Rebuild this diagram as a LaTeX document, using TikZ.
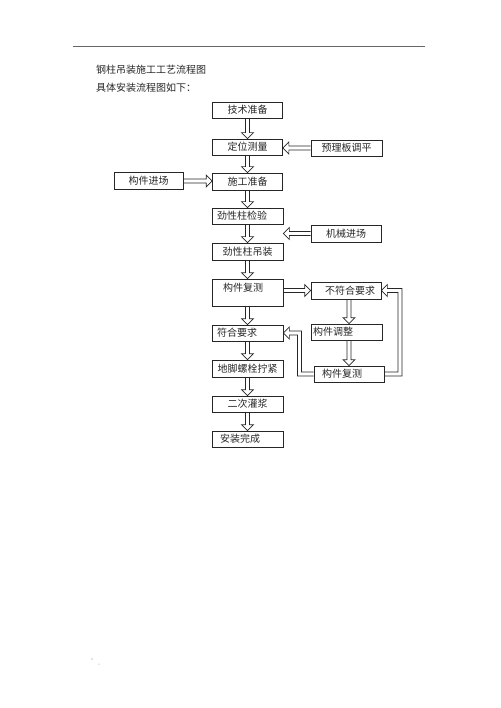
\documentclass[tikz,border=0pt]{standalone}
\usepackage{fontspec}
\newfontfamily\cjk{Noto Sans CJK SC}
\usetikzlibrary{calc}
% hollow straight arrow: outline of a shaft (half width 2) and an open head
\newcommand\harr[2]{%
  \path ($(#2)!6pt!(#1)$) coordinate (hb);
  \draw[headln] ($(#1)!2pt!90:(#2)$) -- ($(hb)!2pt!90:(#2)$) -- ($(hb)!6pt!90:(#2)$) -- (#2)
    -- ($(hb)!6pt!-90:(#2)$) -- ($(hb)!2pt!-90:(#2)$) -- ($(#1)!2pt!-90:(#2)$);}
\tikzset{
  box/.style={draw=black!85, line width=0.65pt, minimum width=70pt, minimum height=16pt,
    inner sep=0pt, text height=8.8pt, text depth=1.2pt,
    font=\cjk\fontsize{10}{12}\selectfont, text=black!85},
  headln/.style={draw=black!85, line width=0.65pt, line join=miter},
  plain/.style={font=\cjk\fontsize{10}{12}\selectfont, text=black!85, inner sep=0pt, anchor=west}
}
\begin{document}
\begin{tikzpicture}[x=1pt,y=-1pt]
\useasboundingbox (0,0) rectangle (500,708);
% header
\draw[black!60, line width=0.6pt] (73,46) -- (425,46);
\node[font=\fontsize{4}{4}\selectfont, text=black!50, inner sep=0pt] (hdots) at (420,43) {. .};
\fill[black!50] (92,659) circle (0.6pt);
\fill[black!50] (99,664) circle (0.5pt);
% titles
\node[plain] (t1) at (96,70) {钢柱吊装施工工艺流程图};
\node[plain] (t2) at (96,88) {具体安装流程图如下：};
% boxes
\node[box] (js) at (247.5,110) {技术准备};
\node[box] (dw) at (247.5,147) {定位测量};
\node[box, minimum width=71pt] (yl) at (346.5,148) {预理板调平};
\node[box, minimum width=69pt, minimum height=17pt] (gj) at (148.5,181) {构件进场};
\node[box, minimum height=17pt] (sg) at (247.5,181.5) {施工准备};
\node[box, minimum width=71pt, align=left, inner xsep=5pt, text width=61pt] (jy) at (247.5,216) {劲性柱检验};
\node[box, minimum height=17pt] (jx) at (346,233.5) {机械进场};
\node[box, minimum width=71pt, minimum height=17pt] (dz) at (247.5,251.5) {劲性柱吊装};
\node[box, minimum width=71pt, minimum height=27pt, align=left, inner xsep=11pt, text width=49pt, text height=12pt, text depth=15pt] (fc) at (247.5,292.5) {构件复测};
\node[box, minimum height=17pt, align=right, inner xsep=6pt, text width=58pt] (bf) at (346,290.5) {不符合要求};
\node[box, minimum width=71pt, align=left, inner xsep=5pt, text width=61pt] (fh) at (247.5,333) {符合要求};
\node[box, minimum width=71pt, align=left, inner xsep=2pt, text width=67pt] (tz) at (346.5,332) {构件调整};
\node[box, minimum width=71pt, minimum height=17pt] (dj) at (247.5,368.5) {地脚螺栓拧紧};
\node[box, align=left, inner xsep=8pt, text width=54pt] (fc2) at (349,374) {构件复测};
\node[box, minimum width=71pt] (ec) at (247.5,404) {二次灌浆};
\node[box, minimum width=71pt, align=left, inner xsep=8pt, text width=55pt] (wc) at (247.5,439) {安装完成};
% helper coordinates
\coordinate (ax) at (349,0);
\coordinate (rx) at (400,0);
\coordinate (lx) at (299.5,0);
\coordinate (r1) at (fc2.east -| rx);
\coordinate (r2) at (bf.east -| rx);
\coordinate (l1) at (fc2.west -| lx);
\coordinate (l2) at (fh.east -| lx);
\coordinate (jxend) at (jy.east |- jx.west);
\coordinate (bfs) at (bf.south -| ax);
\coordinate (tzn) at (tz.north -| ax);
\coordinate (tzs) at (tz.south -| ax);
\coordinate (fcn) at (fc2.north -| ax);
\coordinate (fce) at (fc.east |- bf.west);
\coordinate (dwe) at (dw.east |- yl.west);
\coordinate (sgw) at (sg.west |- gj.east);
% straight hollow arrows
\harr{js.south}{dw.north}
\harr{dw.south}{sg.north}
\harr{sg.south}{jy.north}
\harr{jy.south}{dz.north}
\harr{dz.south}{fc.north}
\harr{fc.south}{fh.north}
\harr{fh.south}{dj.north}
\harr{dj.south}{ec.north}
\harr{ec.south}{wc.north}
\harr{yl.west}{dwe}
\harr{gj.east}{sgw}
\harr{jx.west}{jxend}
\harr{fce}{bf.west}
\harr{bfs}{tzn}
\harr{tzs}{fcn}
% loop back to 不符合要求
\draw[headln] ($(fc2.east)+(0,-2)$) -- ($(r1)+(-2,-2)$) -- ($(r2)+(-2,2)$) -- ($(bf.east)+(6,2)$)
  -- ($(bf.east)+(6,6)$) -- (bf.east) -- ($(bf.east)+(6,-6)$) -- ($(bf.east)+(6,-2)$)
  -- ($(r2)+(2,-2)$) -- ($(r1)+(2,2)$) -- ($(fc2.east)+(0,2)$);
% loop back to 符合要求
\draw[headln] ($(fc2.west)+(0,2)$) -- ($(l1)+(-2,2)$) -- ($(l2)+(-2,2)$) -- ($(fh.east)+(6,2)$)
  -- ($(fh.east)+(6,6)$) -- (fh.east) -- ($(fh.east)+(6,-6)$) -- ($(fh.east)+(6,-2)$)
  -- ($(l2)+(2,-2)$) -- ($(l1)+(2,-2)$) -- ($(fc2.west)+(0,-2)$);
\end{tikzpicture}
\end{document}
